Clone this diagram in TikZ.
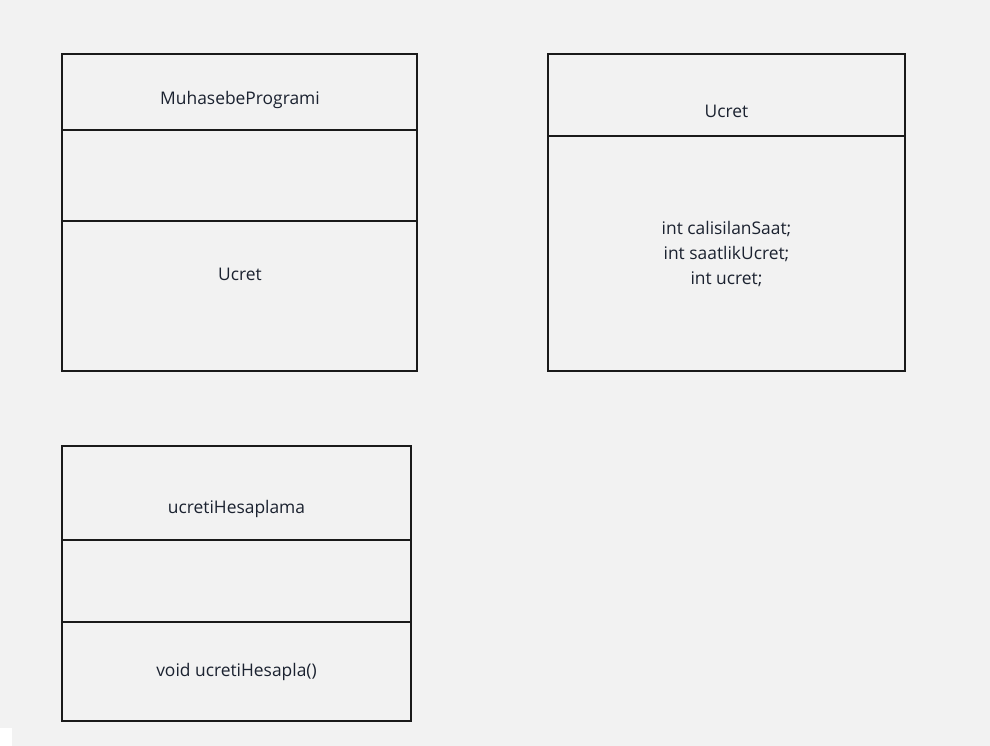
\documentclass[tikz,border=0pt]{standalone}
\usepackage{fontspec}
\setmainfont{Open Sans}
\usetikzlibrary{positioning}
\definecolor{bgc}{HTML}{F2F2F2}
\definecolor{linec}{HTML}{1A1A1A}
\definecolor{txtc}{HTML}{1B2230}
\tikzset{
  part/.style={draw=linec, line width=2.8pt, fill=bgc, minimum width=#1, inner sep=0pt, outer sep=0pt},
  lbl/.style={text=txtc, font=\fontsize{17.4}{25}\selectfont, align=center, inner sep=0pt}
}

\begin{document}
\begin{tikzpicture}[x=1pt, y=-1pt]
    \useasboundingbox (0,0) rectangle (990,746);
    \fill[bgc] (0,0) rectangle (990,746);
    \fill[white] (0,728) rectangle (12,746);
    % MuhasebeProgrami
    \node[part=355pt, minimum height=76pt, anchor=north west] (mpHead) at (62,54) {};
    \node[part=355pt, minimum height=91pt, below=0pt of mpHead] (mpAttr) {};
    \node[part=355pt, minimum height=150pt, below=0pt of mpAttr] (mpOps) {};
    \node[lbl] (mpName) at (240,100) {MuhasebeProgrami};
    \node[lbl] (mpUcret) at (240,274) {Ucret};
    % Ucret
    \node[part=357pt, minimum height=82pt, anchor=north west] (ucHead) at (548,54) {};
    \node[part=357pt, minimum height=235pt, below=0pt of ucHead] (ucBody) {};
    \node[lbl] (ucName) at (726.5,111) {Ucret};
    \node[lbl] (ucFields) at (726.5,254) {int calisilanSaat;\\ int saatlikUcret;\\int ucret;};
    % ucretiHesaplama
    \node[part=349pt, minimum height=94pt, anchor=north west] (uhHead) at (62,446) {};
    \node[part=349pt, minimum height=82pt, below=0pt of uhHead] (uhAttr) {};
    \node[part=349pt, minimum height=99pt, below=0pt of uhAttr] (uhOps) {};
    \node[lbl] (uhName) at (236.5,509) {ucretiHesaplama};
    \node[lbl] (uhMethod) at (236.5,672) {void ucretiHesapla()};
\end{tikzpicture}
\end{document}
